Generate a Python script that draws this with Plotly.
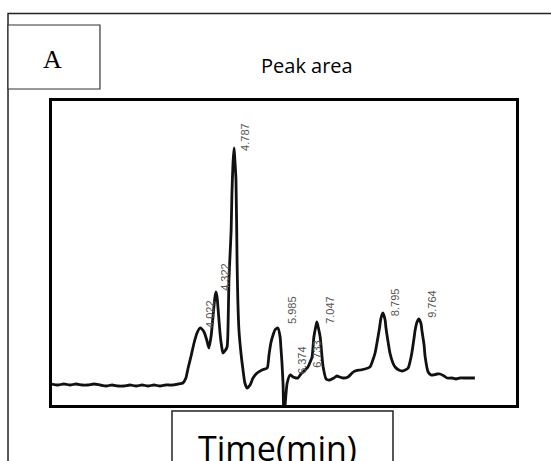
import plotly.graph_objects as go

# Retention time (min) and detector signal (arbitrary units)
time_min = [-0.12, 0.04, 0.20, 0.37, 0.53, 0.69, 0.85, 1.01, 1.18, 1.34, 1.50, 1.66, 1.82, 1.98,
            2.15, 2.31, 2.47, 2.63, 2.79, 2.95, 3.12, 3.28, 3.41, 3.49, 3.55, 3.63, 3.71, 3.79,
            3.87, 3.92, 3.98, 4.06, 4.11, 4.17, 4.22, 4.27, 4.30, 4.33, 4.36, 4.41, 4.44, 4.49,
            4.54, 4.60, 4.63, 4.65, 4.68, 4.71, 4.73, 4.76, 4.79, 4.81, 4.84, 4.87, 4.89, 4.92,
            4.98, 5.03, 5.08, 5.14, 5.22, 5.30, 5.41, 5.54, 5.68, 5.73, 5.78, 5.84, 5.89, 5.97,
            6.03, 6.05, 6.08, 6.11, 6.13, 6.16, 6.19, 6.22, 6.30, 6.38, 6.46, 6.51, 6.59, 6.65,
            6.73, 6.78, 6.84, 6.89, 6.94, 7.00, 7.02, 7.05, 7.11, 7.16, 7.19, 7.27, 7.37, 7.48,
            7.56, 7.64, 7.73, 7.86, 7.97, 8.05, 8.18, 8.32, 8.45, 8.53, 8.59, 8.64, 8.70, 8.75,
            8.80, 8.86, 8.88, 8.94, 8.99, 9.07, 9.13, 9.23, 9.32, 9.40, 9.48, 9.53, 9.58, 9.64,
            9.67, 9.72, 9.77, 9.83, 9.85, 9.91, 9.94, 10.02, 10.10, 10.15, 10.26, 10.34, 10.45,
            10.53, 10.66, 10.77, 10.88, 11.01, 11.15, 11.28]
signal = [1, 0, 1, 0, 1, 0, 0, 1, 0, -1, 0, -1, -1, 0,
          -1, 0, -1, 0, -1, 0, 0, 1, 2, 7, 17, 29, 42, 52,
          57, 56, 53, 44, 37, 49, 68, 87, 93, 88, 75, 52, 42, 32,
          34, 38, 65, 105, 130, 155, 190, 222, 237, 225, 205, 122, 85, 55,
          30, 15, 2, -3, 0, 7, 12, 15, 17, 30, 42, 50, 55, 57,
          48, 38, 22, 0, -30, -22, -8, 2, 10, 8, 7, 7, 11, 13,
          16, 18, 23, 28, 48, 60, 63, 59, 48, 28, 18, 6, 5, 7,
          9, 8, 7, 8, 12, 14, 15, 16, 18, 25, 32, 42, 55, 67,
          72, 65, 58, 43, 32, 22, 18, 15, 14, 15, 17, 23, 32, 47,
          55, 63, 66, 61, 55, 40, 28, 13, 10, 10, 11, 11, 9,
          7, 7, 6, 7, 7, 7, 7]

# Peak labels: text, label-centre time, label-centre signal
peak_labels = ["4.022", "4.322", "4.787", "5.985", "6.374", "6.733", "7.047", "8.795", "9.764"]
label_time = [4.14, 4.54, 5.08, 6.35, 6.62, 7.02, 7.37, 9.13, 10.12]
label_signal = [71, 108, 248, 75, 25, 31, 75, 83, 81]

fig = go.Figure()
fig.add_trace(go.Scatter(x=time_min, y=signal, mode="lines",
                         line=dict(color="#111111", width=2.8, shape="spline", smoothing=0.6),
                         hoverinfo="skip", showlegend=False))

for txt, tx, sy in zip(peak_labels, label_time, label_signal):
    fig.add_annotation(x=tx, y=sy, text=txt, showarrow=False, textangle=-90,
                       xanchor="center", yanchor="middle",
                       font=dict(family="Liberation Sans Narrow, Arial Narrow, sans-serif",
                                 size=11, color="#555555"))

# Frames (paper coords relative to plot area)
fig.add_shape(type="rect", xref="paper", yref="paper", x0=-0.0948, x1=1.095, y0=-0.214, y1=1.2878,
              line=dict(color="#222222", width=1.5))
fig.add_shape(type="rect", xref="paper", yref="paper", x0=-0.0948, x1=0.1034, y0=1.0395, y1=1.25,
              line=dict(color="#333333", width=1.2), fillcolor="white")
fig.add_shape(type="rect", xref="paper", yref="paper", x0=0.2586, x1=0.7349, y0=-0.25, y1=-0.0197,
              line=dict(color="#222222", width=1.5))

fig.add_annotation(xref="paper", yref="paper", x=0.002, y=1.135, text="A", showarrow=False,
                   xanchor="center", yanchor="middle",
                   font=dict(family="Liberation Serif, DejaVu Serif, serif", size=26, color="black"))
fig.add_annotation(xref="paper", yref="paper", x=0.5496, y=1.118, text="Peak area", showarrow=False,
                   xanchor="center", yanchor="middle",
                   font=dict(family="Open Sans, Lato, sans-serif", size=20, color="black"))
fig.add_annotation(xref="paper", yref="paper", x=0.485, y=-0.14, text="Time(min)", showarrow=False,
                   xanchor="center", yanchor="middle",
                   font=dict(family="Open Sans, Lato, sans-serif", size=34, color="black"))

fig.update_xaxes(range=[-0.119, 12.388], showgrid=False, zeroline=False, showticklabels=False,
                 ticks="", showline=True, mirror=True, linecolor="black", linewidth=2.5)
fig.update_yaxes(range=[-20, 284], showgrid=False, zeroline=False, showticklabels=False,
                 ticks="", showline=True, mirror=True, linecolor="black", linewidth=2.5)

fig.update_layout(width=551, height=461, margin=dict(l=52, r=35, t=101, b=56),
                  paper_bgcolor="white", plot_bgcolor="white")

fig.write_html("out.html")
